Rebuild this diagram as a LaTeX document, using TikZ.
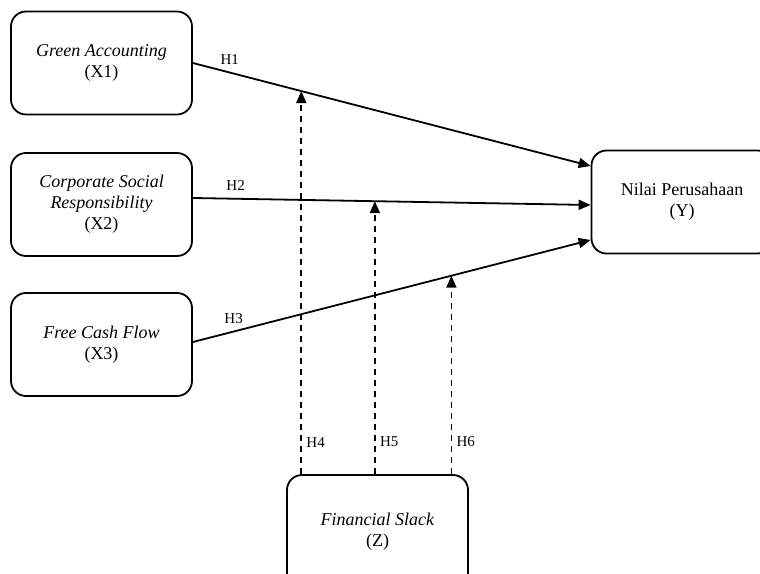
\documentclass[tikz,border=0pt]{standalone}
\usepackage{fontspec}
\setmainfont{Liberation Serif}
\usetikzlibrary{arrows.meta,calc}

\begin{document}
\begin{tikzpicture}[%
  x=1pt,y=1pt,
  boxStyle/.style={draw,line width=1.8pt,rounded corners=15pt,
    minimum width=181pt,minimum height=103pt,align=center,
    font=\fontsize{18}{21}\selectfont},
  lineStyle/.style={line width=1.8pt,-{Triangle[length=12pt,width=10pt]}},
  dashStyle/.style={lineStyle,dash pattern=on 6pt off 5pt},
  hypLabel/.style={font=\fontsize{15}{18}\selectfont,inner sep=0pt}
]
\useasboundingbox (0,0) rectangle (760,573);
%
%
\pgfmathsetmacro{\xleft}{101.5}  % Centre of the left column of boxes.
\pgfmathsetmacro{\gap}{7}        % Distance of a label above its line.
%
% Independent variables.
\node[boxStyle] (x1) at (\xleft,510)   {\textit{Green Accounting}\\(X1)};
\node[boxStyle] (x2) at (\xleft,368.5) {\textit{Corporate Social}\\\textit{Responsibility}\\(X2)};
\node[boxStyle] (x3) at (\xleft,228.5) {\textit{Free Cash Flow}\\(X3)};
%
% Dependent and moderating variables.
\node[boxStyle] (y) at (682,371) {Nilai Perusahaan\\(Y)};
\node[boxStyle,minimum height=113pt] (z) at (377.5,41.5) {\textit{Financial Slack}\\(Z)};
%
%
% Direct effects H1--H3.
\draw[lineStyle] (x1.east)
  -- node[hypLabel,pos=0.0925,above=\gap pt] {H1}
     coordinate[pos=0.2725] (m1) ([yshift=36pt]y.west);
\draw[lineStyle] ([yshift=6.5pt]x2.east)
  -- node[hypLabel,pos=0.1075,above=\gap pt] {H2}
     coordinate[pos=0.4575] (m2) ([yshift=-3pt]y.west);
\draw[lineStyle] ([yshift=2.5pt]x3.east)
  -- node[hypLabel,pos=0.1025,above=\gap pt] {H3}
     coordinate[pos=0.65] (m3) ([yshift=-38pt]y.west);
%
% Moderating effects H4--H6.
\foreach \i/\h in {1/4,2/5,3/6}{
  \draw[dashStyle] (z.north -| m\i) -- (m\i);
  \node[hypLabel,anchor=west] (h\h) at ($(z.north -| m\i)+(5,32)$) {H\h};
}
\end{tikzpicture}
\end{document}
